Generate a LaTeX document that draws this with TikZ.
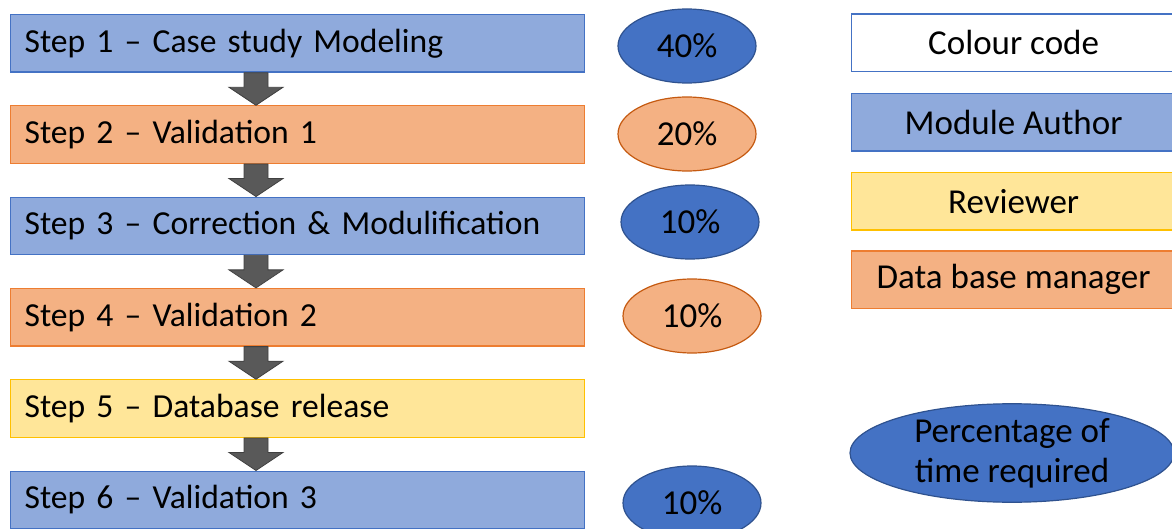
\documentclass[tikz,border=0pt]{standalone}
\usepackage{fontspec}
\setmainfont{Carlito}
\usetikzlibrary{shapes.geometric,calc}

\definecolor{authorfill}{HTML}{8FAADC}
\definecolor{authorline}{HTML}{4472C4}
\definecolor{managerfill}{HTML}{F4B183}
\definecolor{managerline}{HTML}{ED7D31}
\definecolor{reviewfill}{HTML}{FFE699}
\definecolor{reviewline}{HTML}{FFC000}
\definecolor{shareblue}{HTML}{4472C4}
\definecolor{sharebline}{HTML}{2F528F}
\definecolor{shareorange}{HTML}{F4B183}
\definecolor{shareoline}{HTML}{C55A11}
\definecolor{arrowfill}{HTML}{595959}
\definecolor{arrowline}{HTML}{404040}

\newcommand\bigtext{\fontsize{35}{40}\selectfont}
\newcommand\steptext{\fontsize{33.6}{40}\selectfont}

\tikzset{
  stepbox/.style={rectangle, anchor=north west, line width=1.2pt,
    minimum height=57.5pt, text width=546pt, inner xsep=14pt, inner ysep=0pt,
    align=left, font=\steptext},
  author/.style={stepbox, fill=authorfill, draw=authorline},
  manager/.style={stepbox, fill=managerfill, draw=managerline},
  reviewer/.style={stepbox, fill=reviewfill, draw=reviewline},
  legendbox/.style={rectangle, anchor=north west, line width=1.2pt,
    minimum height=57.5pt, minimum width=324pt, inner sep=0pt, font=\bigtext},
  share/.style={ellipse, minimum width=138pt, minimum height=74pt, inner sep=0pt,
    line width=1.2pt, font=\bigtext},
  shareA/.style={share, fill=shareblue, draw=sharebline},
  shareM/.style={share, fill=shareorange, draw=shareoline},
  blockarrow/.style={fill=arrowfill, draw=arrowline, line width=0.8pt, line join=miter}
}

% block arrow from the bottom of one step to the top of the next
\newcommand\flowarrow[2]{%
  \path ($(#1.south west)+(246,0)$) coordinate (#1-out)
        ($(#2.north west)+(246,0)$) coordinate (#2-in);
  \draw[blockarrow] ($(#1-out)+(-12,0)$) -- ($(#2-in)+(-12,-18)$)
    -- ($(#2-in)+(-27,-18)$) -- (#2-in) -- ($(#2-in)+(27,-18)$)
    -- ($(#2-in)+(12,-18)$) -- ($(#1-out)+(12,0)$) -- cycle;
}

\begin{document}
\begin{tikzpicture}[x=1pt, y=-1pt]
  \useasboundingbox (0,0) rectangle (1172,529);
  \clip (0,0) rectangle (1172,529);

  % process steps
  \node[author]   (s1) at (10,14)    {Step 1 -- Case study Modeling};
  \node[manager]  (s2) at (10,105.3) {Step 2 -- Validation 1};
  \node[author]   (s3) at (10,196.6) {Step 3 -- Correction \& Modulification};
  \node[manager]  (s4) at (10,287.9) {Step 4 -- Validation 2};
  \node[reviewer] (s5) at (10,379.2) {Step 5 -- Database release};
  \node[author]   (s6) at (10,470.5) {Step 6 -- Validation 3};

  \flowarrow{s1}{s2}
  \flowarrow{s2}{s3}
  \flowarrow{s3}{s4}
  \flowarrow{s4}{s5}
  \flowarrow{s5}{s6}

  % share of time per step
  \node[shareA] (p1) at (687,46)  {40\%};
  \node[shareM] (p2) at (687,134) {20\%};
  \node[shareA] (p3) at (690,222) {10\%};
  \node[shareM] (p4) at (692,316) {10\%};
  \node[shareA] (p6) at (692,503) {10\%};

  % colour code
  \node[legendbox, fill=white, draw=authorline] (l0) at (851,13.5) {Colour code};
  \node[legendbox, fill=authorfill, draw=authorline] (l1) at (851,93) {Module Author};
  \node[legendbox, fill=reviewfill, draw=reviewline] (l2) at (851,172) {Reviewer};
  \node[legendbox, fill=managerfill, draw=managerline] (l3) at (851,250.5) {Data base manager};

  \node[ellipse, fill=shareblue, draw=sharebline, line width=1.2pt,
    minimum width=324pt, minimum height=94pt, inner sep=0pt, align=center,
    font=\bigtext] (lp) at (1012,453) {Percentage of\\time required};
\end{tikzpicture}
\end{document}
